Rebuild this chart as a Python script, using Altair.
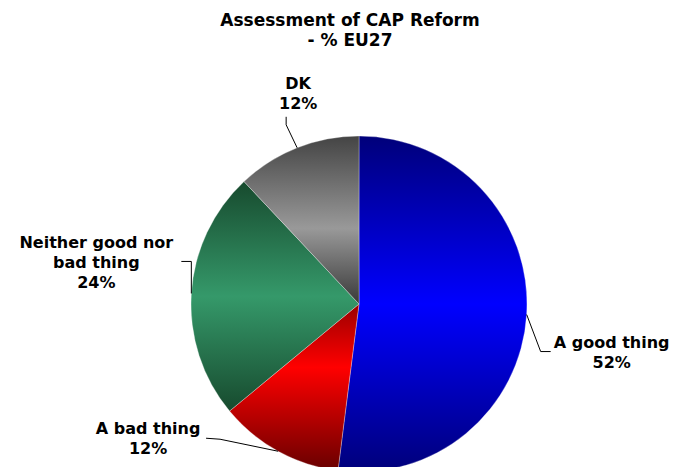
import math
import altair as alt
import pandas as pd

# ---- data ----
categories = ["A good thing", "A bad thing", "Neither good nor bad thing", "DK"]
values = [52, 12, 24, 12]
label_texts = ["A good thing\n52%", "A bad thing\n12%", "Neither good nor\nbad thing\n24%", "DK\n12%"]
title_text = "Assessment of CAP Reform\n- % EU27"

df = pd.DataFrame({
    "category": categories,
    "value": values,
    "label": label_texts,
    "order": list(range(len(categories))),
})

# ---- layout / style ----
W, H = 662, 459
CX, CY, R = 351, 296, 168
FONT = "DejaVu Sans"
FS = 16

def grad(stops):
    return alt.LinearGradient(
        gradient="linear", x1=0, x2=0, y1=0, y2=1,
        stops=[alt.GradientStop(offset=o, color=c) for o, c in stops],
    )

fills = {
    "A good thing": grad([(0, "#00007a"), (0.5, "#0000ff"), (1, "#00007a")]),
    "A bad thing": grad([(0, "#9a0000"), (0.38, "#ff0000"), (1, "#680000")]),
    "Neither good nor bad thing": grad([(0, "#174a2e"), (0.5, "#35996a"), (1, "#174a2e")]),
    "DK": grad([(0, "#444444"), (0.55, "#999999"), (1, "#393939")]),
}

# leader elbow, leader end and label (first line centre) offsets relative to the slice edge point
leader = {
    "A good thing": dict(bx=14, by=37, ux=24, uy=37, lx=85, ly=28),
    "A bad thing": dict(bx=-58, by=-12, ux=-72, uy=-13, lx=-130, ly=-22),
    "Neither good nor bad thing": dict(bx=0, by=-32, ux=-10, uy=-32, lx=-95, ly=-50),
    "DK": dict(bx=-11, by=-23, ux=-11, uy=-31, lx=1, ly=-64),
}

base = (
    alt.Chart(df)
    .transform_joinaggregate(total="sum(value)")
    .transform_window(cum="sum(value)", sort=[alt.SortField("order")], frame=[None, 0])
    .transform_calculate(
        f0="(datum.cum - datum.value) / datum.total",
        f1="datum.cum / datum.total",
        ang="2 * PI * (datum.cum - datum.value / 2) / datum.total",
    )
    .transform_calculate(
        ex=f"{CX} + {R} * sin(datum.ang)",
        ey=f"{CY} - {R} * cos(datum.ang)",
    )
)

theta_scale = alt.Scale(domain=[0, 1], range=[0, 2 * math.pi])

layers = []
for cat in categories:
    sub = base.transform_filter(alt.datum.category == cat)
    arc = sub.mark_arc(
        radius=R, fill=fills[cat], stroke="#ffffff", strokeWidth=0.6, strokeOpacity=0.5
    ).encode(
        theta=alt.Theta("f0:Q", scale=theta_scale),
        theta2="f1:Q",
        x=alt.value(CX),
        y=alt.value(CY),
    )
    layers.append(arc)

for cat in categories:
    o = leader[cat]
    sub = base.transform_filter(alt.datum.category == cat).transform_calculate(
        bx=f"datum.ex + {o['bx']}", by=f"datum.ey + {o['by']}",
        ux=f"datum.ex + {o['ux']}", uy=f"datum.ey + {o['uy']}",
        lx=f"datum.ex + {o['lx']}", ly=f"datum.ey + {o['ly']}",
    )
    seg1 = sub.mark_rule(color="#000000", strokeWidth=1).encode(
        x=alt.X("ex:Q", scale=None), y=alt.Y("ey:Q", scale=None),
        x2="bx:Q", y2="by:Q",
    )
    seg2 = sub.mark_rule(color="#000000", strokeWidth=1).encode(
        x=alt.X("bx:Q", scale=None), y=alt.Y("by:Q", scale=None),
        x2="ux:Q", y2="uy:Q",
    )
    txt = sub.mark_text(
        align="center", baseline="middle", lineBreak="\n",
        font=FONT, fontSize=FS, fontWeight="bold", lineHeight=20, color="#000000",
    ).encode(
        x=alt.X("lx:Q", scale=None), y=alt.Y("ly:Q", scale=None), text="label:N",
    )
    layers += [seg1, seg2, txt]

title = alt.Chart(pd.DataFrame({"t": [title_text]})).mark_text(
    align="center", baseline="middle", lineBreak="\n",
    font=FONT, fontSize=17, fontWeight="bold", lineHeight=20, color="#000000",
).encode(x=alt.value(342), y=alt.value(13), text="t:N")
layers.append(title)

chart = (
    alt.layer(*layers)
    .properties(width=W, height=H, autosize=alt.AutoSizeParams(type="none"), padding=0)
    .configure_view(strokeWidth=0, stroke="transparent")
)

chart.save("out.html", embed_options={"renderer": "svg", "actions": False})
